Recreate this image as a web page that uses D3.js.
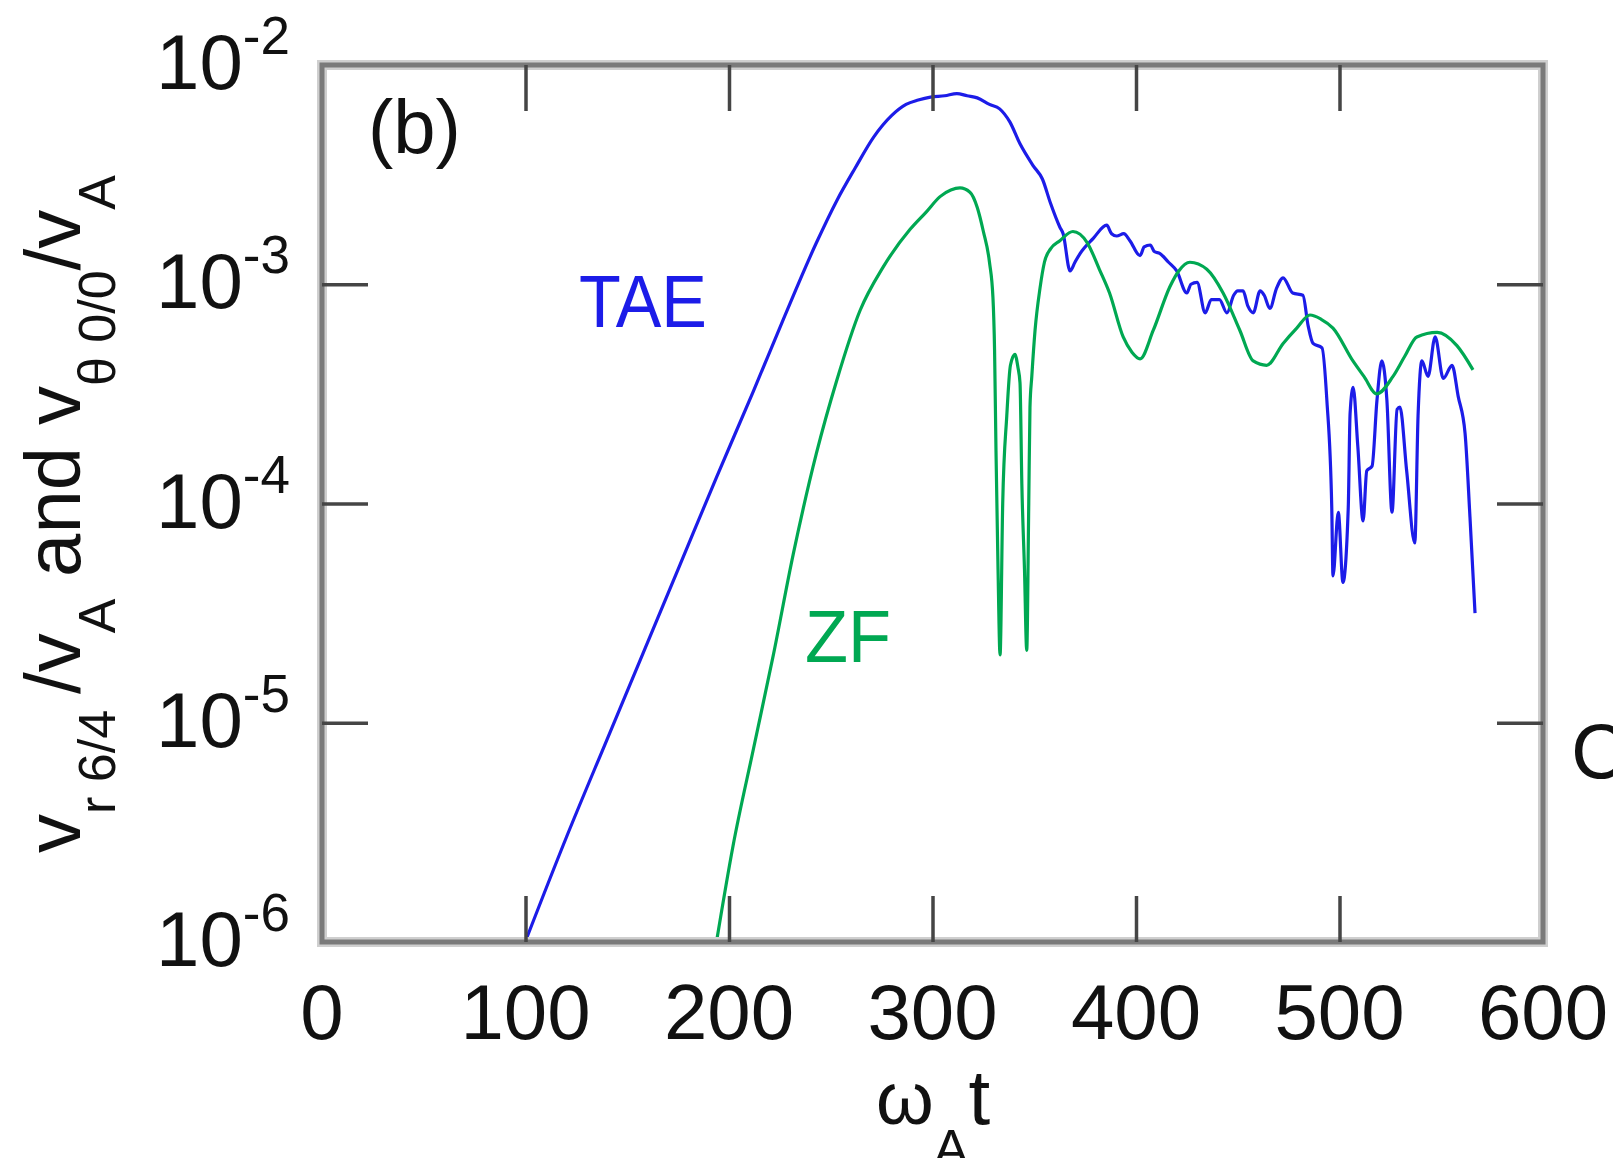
<!DOCTYPE html>
<html>
<head>
<meta charset="utf-8">
<script src="https://cdn.jsdelivr.net/npm/d3@7"></script>
<style>
    body { margin: 0; background: #fff; }
    svg { display: block; font-family: "Liberation Sans", Arial, Helvetica, sans-serif; }
</style>
</head>
<body>
<svg id="canvas" width="1613" height="1158"></svg>
<script>
// time axis (omega_A t) ticks and log ticks
const xTicks = [0, 100, 200, 300, 400, 500, 600];
const yTicks = [1e-6, 1e-5, 1e-4, 1e-3, 1e-2];
const yTickExp = ["-6", "-5", "-4", "-3", "-2"];

// TAE: v_r 6/4 / v_A
const taeT = [99, 120.2, 139.9, 157.9, 175.9, 193.9, 211.9, 226.7, 243, 252.9, 262, 271, 280, 287, 293, 299, 306, 312, 317, 322,
    328, 333, 338, 343, 349.5, 354, 358, 362.6, 364.2, 367.6, 370, 372.5, 379, 385.6, 388, 390.5, 394, 397, 402, 404,
    407, 409, 411.8, 416, 420, 425, 427, 430, 434, 437, 441, 444.7, 448, 450, 452.6, 455, 457.6, 461, 463, 465.8,
    469, 472.3, 477, 482, 484.6, 487, 491.4, 493.8, 496.2, 496.8, 499.4, 501.7, 504.3, 505.2, 506.7, 509, 511.6, 513.4, 516, 518.4,
    520.8, 523.3, 525.8, 528.3, 529.7, 533, 537, 538.6, 540.5, 543.5, 547, 551, 555.3, 558.3, 561.7, 564.1, 566.6];
const taeV = [9.55e-7, 3.02e-6, 8.32e-6, 2.09e-5, 5.25e-5, 1.32e-4, 3.24e-4, 6.92e-4, 1.55e-3, 2.40e-3, 3.39e-3, 4.68e-3, 5.89e-3, 6.61e-3, 6.92e-3, 7.14e-3, 7.24e-3, 7.41e-3, 7.24e-3, 7.08e-3,
    6.61e-3, 6.31e-3, 5.50e-3, 4.37e-3, 3.47e-3, 3.02e-3, 2.34e-3, 1.82e-3, 1.70e-3, 1.15e-3, 1.26e-3, 1.38e-3, 1.62e-3, 1.86e-3, 1.70e-3, 1.66e-3, 1.70e-3, 1.58e-3, 1.35e-3, 1.48e-3,
    1.51e-3, 1.41e-3, 1.38e-3, 1.26e-3, 1.15e-3, 9.12e-4, 1.00e-3, 1.02e-3, 7.41e-4, 8.51e-4, 8.51e-4, 7.41e-4, 8.91e-4, 9.33e-4, 9.33e-4, 7.94e-4, 7.41e-4, 9.33e-4, 8.91e-4, 7.76e-4,
    9.55e-4, 1.07e-3, 9.12e-4, 8.91e-4, 6.46e-4, 5.37e-4, 5.13e-4, 2.95e-4, 9.55e-5, 4.68e-5, 9.12e-5, 4.37e-5, 9.55e-5, 2.57e-4, 3.39e-4, 1.82e-4, 8.32e-5, 1.41e-4, 1.48e-4, 2.95e-4,
    4.47e-4, 2.95e-4, 9.12e-5, 2.69e-4, 2.75e-4, 1.41e-4, 6.61e-5, 2.51e-4, 4.47e-4, 3.80e-4, 5.75e-4, 3.72e-4, 4.27e-4, 3.09e-4, 2.09e-4, 8.71e-5, 3.16e-5];

// ZF: v_theta 0/0 / v_A
const zfT = [193.3, 202, 212, 221.8, 231.6, 243, 252.9, 264.4, 275.8, 289, 297, 303.7, 309, 313.5, 318.4, 322,
    325, 328, 329.7, 330.5, 331.2, 332.2, 333.2, 334.5, 336.5, 338.3, 340.5, 342, 343, 343.9, 345.2, 346.3, 347.3, 347.9, 348.8, 350.4,
    352.8, 355, 358, 362.6, 369, 376, 382, 387, 393.7, 398, 402, 408.5, 416.7, 421, 426.5, 434.8, 442.8, 451, 457.6, 464.2,
    472.3, 479, 485.5, 491, 496.8, 506.6, 512, 518.3, 526.3, 532, 538, 548, 557.7, 565.6];
const zfV = [9.33e-7, 2.75e-6, 7.59e-6, 2.04e-5, 5.89e-5, 1.70e-4, 3.63e-4, 7.59e-4, 1.20e-3, 1.78e-3, 2.14e-3, 2.51e-3, 2.69e-3, 2.75e-3, 2.63e-3, 2.24e-3,
    1.74e-3, 1.26e-3, 8.71e-4, 5.01e-4, 1.74e-4, 5.01e-5, 2.04e-5, 1.00e-4, 2.51e-4, 4.27e-4, 4.79e-4, 4.17e-4, 3.55e-4, 1.23e-4, 5.01e-5, 2.14e-5, 1.00e-4, 2.75e-4, 3.80e-4, 6.17e-4,
    9.55e-4, 1.26e-3, 1.45e-3, 1.58e-3, 1.74e-3, 1.55e-3, 1.17e-3, 9.12e-4, 5.75e-4, 4.90e-4, 4.57e-4, 6.17e-4, 9.77e-4, 1.15e-3, 1.26e-3, 1.17e-3, 9.12e-4, 6.17e-4, 4.47e-4, 4.27e-4,
    5.37e-4, 6.31e-4, 7.24e-4, 6.92e-4, 6.31e-4, 4.47e-4, 3.80e-4, 3.16e-4, 3.80e-4, 4.68e-4, 5.75e-4, 6.03e-4, 5.25e-4, 4.07e-4];

const blue = "#1c1ce8";
const green = "#00a852";
const plotLeft = 322, plotRight = 1543, plotTop = 65, plotBottom = 942;
const tickLen = 46;

const svg = d3.select("#canvas");

const x = d3.scaleLinear().domain([0, 600]).range([plotLeft, plotRight]);
const y = d3.scaleLog().domain([1e-6, 1e-2]).range([plotBottom, plotTop]);

svg.append("defs").append("clipPath").attr("id", "plot")
    .append("rect")
    .attr("x", plotLeft).attr("y", plotTop)
    .attr("width", plotRight - plotLeft).attr("height", plotBottom - plotTop);

// curves
const line = d3.line()
    .x((d) => x(d[0]))
    .y((d) => y(d[1]))
    .curve(d3.curveMonotoneX);

svg.append("path")
    .datum(taeT.map((t, i) => [t, taeV[i]]))
    .attr("clip-path", "url(#plot)")
    .attr("fill", "none")
    .attr("stroke", blue)
    .attr("stroke-width", 3.2)
    .attr("stroke-linejoin", "round")
    .attr("d", line);

svg.append("path")
    .datum(zfT.map((t, i) => [t, zfV[i]]))
    .attr("clip-path", "url(#plot)")
    .attr("fill", "none")
    .attr("stroke", green)
    .attr("stroke-width", 3.2)
    .attr("stroke-linejoin", "round")
    .attr("d", line);

// frame
svg.append("rect")
    .attr("x", plotLeft).attr("y", plotTop)
    .attr("width", plotRight - plotLeft).attr("height", plotBottom - plotTop)
    .attr("fill", "none").attr("stroke", "#cfcfcf").attr("stroke-width", 10);
svg.append("rect")
    .attr("x", plotLeft).attr("y", plotTop)
    .attr("width", plotRight - plotLeft).attr("height", plotBottom - plotTop)
    .attr("fill", "none").attr("stroke", "#7a7a7a").attr("stroke-width", 5);

// inward ticks on all four sides
const styleAxis = (g) => {
    g.select(".domain").remove();
    g.selectAll(".tick line").attr("stroke", "#454545").attr("stroke-width", 3.5);
};

svg.append("g")
    .attr("transform", `translate(0,${plotBottom})`)
    .call(d3.axisBottom(x).tickValues(xTicks.slice(1, -1)).tickSize(-tickLen).tickFormat(""))
    .call(styleAxis);
svg.append("g")
    .attr("transform", `translate(0,${plotTop})`)
    .call(d3.axisTop(x).tickValues(xTicks.slice(1, -1)).tickSize(-tickLen).tickFormat(""))
    .call(styleAxis);
svg.append("g")
    .attr("transform", `translate(${plotLeft},0)`)
    .call(d3.axisLeft(y).tickValues(yTicks.slice(1, -1)).tickSize(-tickLen).tickFormat(""))
    .call(styleAxis);
svg.append("g")
    .attr("transform", `translate(${plotRight},0)`)
    .call(d3.axisRight(y).tickValues(yTicks.slice(1, -1)).tickSize(-tickLen).tickFormat(""))
    .call(styleAxis);

// x tick labels
svg.append("g")
    .selectAll("text")
    .data(xTicks)
    .enter()
    .append("text")
    .attr("x", (d) => x(d))
    .attr("y", plotBottom + 97)
    .attr("text-anchor", "middle")
    .attr("font-size", 78)
    .attr("fill", "#111")
    .text((d) => d);

// y tick labels as 10 with superscript
const yLabels = svg.append("g")
    .selectAll("text")
    .data(yTicks)
    .enter()
    .append("text")
    .attr("x", 290)
    .attr("y", (d) => y(d) + 24)
    .attr("text-anchor", "end")
    .attr("fill", "#111");
yLabels.append("tspan").attr("font-size", 78).text("10");
yLabels.append("tspan").attr("font-size", 53).attr("dy", -35).text((d, i) => yTickExp[i]);

// y axis title
const yTitle = svg.append("text")
    .attr("transform", "rotate(-90)")
    .attr("x", -853)
    .attr("y", 80)
    .attr("fill", "#111");
const yParts = [
    ["v", 78, 0, 0], ["r", 52, 35, 0], [" 6/4", 52, 0, 0],
    ["/v", 78, -35, 16], ["A", 52, 35, 0], [" and v", 78, -35, 0],
    ["\u03b8", 52, 35, 0], [" 0/0", 52, 0, 0], ["/v", 78, -35, 0], ["A", 52, 35, 0]
];
yParts.forEach(([s, size, dy, dx]) => {
    yTitle.append("tspan")
        .attr("font-size", size)
        .attr("dy", dy)
        .attr("dx", dx)
        .text(s);
});

// x axis title
const xTitle = svg.append("text")
    .attr("x", 876)
    .attr("y", 1124)
    .attr("fill", "#111");
xTitle.append("tspan").attr("font-size", 74).text("\u03c9");
xTitle.append("tspan").attr("font-size", 52).attr("dy", 42).text("A");
xTitle.append("tspan").attr("font-size", 78).attr("dy", -42).text("t");

// annotations
svg.append("text")
    .attr("x", 368).attr("y", 153)
    .attr("font-size", 76).attr("fill", "#111")
    .text("(b)");

svg.append("text")
    .attr("x", 579).attr("y", 327)
    .attr("font-size", 75).attr("fill", blue)
    .attr("textLength", 128).attr("lengthAdjust", "spacingAndGlyphs")
    .text("TAE");

svg.append("text")
    .attr("x", 805).attr("y", 662)
    .attr("font-size", 75).attr("fill", green)
    .attr("textLength", 86).attr("lengthAdjust", "spacingAndGlyphs")
    .text("ZF");

// clipped letter from the neighbouring text
svg.append("text")
    .attr("x", 1571).attr("y", 778)
    .attr("font-size", 78).attr("fill", "#111")
    .text("C");
</script>
</body>
</html>
